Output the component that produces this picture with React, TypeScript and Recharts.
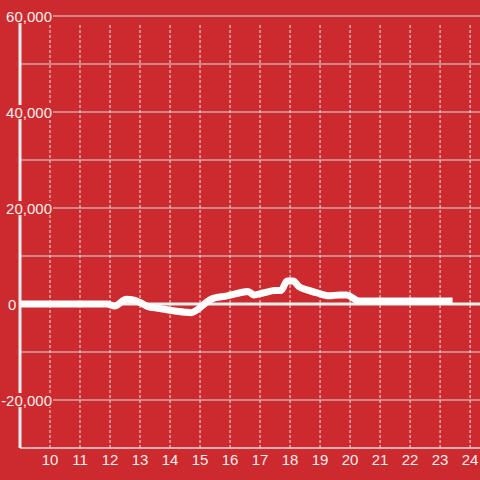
import React from "react";
import { LineChart, Line, XAxis, YAxis, ReferenceLine } from "recharts";

const hours = [
  9.0, 9.5, 10.0, 10.5, 11.0, 11.5, 11.9, 12.15, 12.55, 12.8, 13.0, 13.25, 13.6, 14.0,
  14.5, 14.7, 14.95, 15.2, 15.4, 15.9, 16.3, 16.6, 16.8, 17.1, 17.5, 17.7, 17.9, 18.1,
  18.3, 18.6, 18.9, 19.3, 19.65, 19.9, 20.1, 20.3, 21.0, 22.0, 23.3,
];
const values = [
  0, 0, 0, 0, 0, 0, 0, -400, 1000, 800, 300, -500, -900, -1300,
  -1700, -1800, -1000, 300, 1100, 1700, 2300, 2600, 1900, 2300, 2800, 2800, 4800, 4800,
  3600, 2900, 2300, 1700, 1900, 1900, 1200, 650, 650, 650, 650,
];
const xTicks = [10, 11, 12, 13, 14, 15, 16, 17, 18, 19, 20, 21, 22, 23, 24];
const yTicks = [-20000, 0, 20000, 40000, 60000];
const yGrid = [-20000, -10000, 10000, 20000, 30000, 40000, 50000, 60000];

const data = hours.map((h, i) => ({ h, v: values[i] }));

const BG = "#cc2a2e";
const TEXT = "#f2eeee";
const FONT = "'Liberation Sans', Arial, sans-serif";

function YTick(props: any) {
  const { y, payload } = props;
  const v = payload.value as number;
  const label = v.toLocaleString("en-US");
  if (v === 0) {
    return (
      <g>
        <rect x={7} y={y - 7} width={10} height={14} fill={BG} />
        <text x={8} y={y + 6} fill={TEXT} fontSize={15} fontFamily={FONT} textAnchor="start">
          {label}
        </text>
      </g>
    );
  }
  return (
    <g>
      <rect x={3} y={y - 7} width={50} height={14} fill={BG} />
      <text x={52} y={y + 6} fill={TEXT} fontSize={15} fontFamily={FONT} textAnchor="end">
        {label}
      </text>
    </g>
  );
}

function XTick(props: any) {
  const { x, y, payload } = props;
  return (
    <text x={x} y={y + 17} fill={TEXT} fontSize={15} fontFamily={FONT} textAnchor="middle">
      {payload.value}
    </text>
  );
}

export default function App() {
  return (
    <div style={{ position: "fixed", left: 0, top: 0, width: 480, height: 480, background: BG }}>
      <LineChart width={480} height={480} data={data} margin={{ top: 16, right: 0, left: 0, bottom: 0 }}>
        {yGrid.map((g) => (
          <ReferenceLine key={"h" + g} y={g} stroke="#dcdcdc" strokeWidth={1} />
        ))}
        {xTicks.map((t) => (
          <ReferenceLine
            key={"v" + t}
            segment={[
              { x: t, y: -30000 },
              { x: t, y: 58333 },
            ]}
            stroke="#e8e8e8"
            strokeWidth={1}
            strokeDasharray="3 2"
          />
        ))}
        <ReferenceLine y={0} stroke="#eeeeee" strokeWidth={3} />
        <XAxis
          dataKey="h"
          type="number"
          domain={[9, 24.33]}
          ticks={xTicks}
          allowDataOverflow
          height={32}
          tickSize={0}
          tickMargin={0}
          tickLine={false}
          axisLine={{ stroke: "#dddddd", strokeWidth: 1.5 }}
          tick={<XTick />}
        />
        <YAxis
          type="number"
          domain={[-30000, 60000]}
          ticks={yTicks}
          allowDataOverflow
          width={20}
          tickSize={0}
          tickLine={false}
          axisLine={{ stroke: "#eeeeee", strokeWidth: 3 }}
          tick={<YTick />}
        />
        <Line
          dataKey="v"
          type="monotone"
          stroke="#ffffff"
          strokeWidth={7}
          strokeLinecap="square"
          strokeLinejoin="round"
          dot={false}
          activeDot={false}
          isAnimationActive={false}
        />
      </LineChart>
    </div>
  );
}
